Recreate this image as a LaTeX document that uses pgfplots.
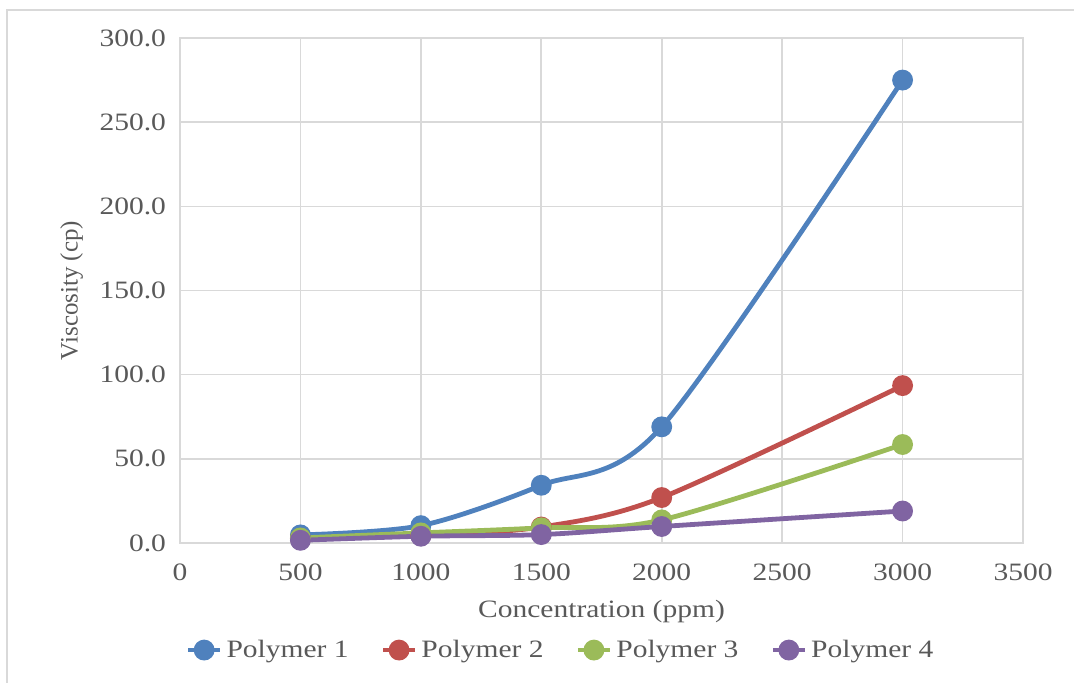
\documentclass[border=0pt]{standalone}
\usepackage{pgfplots}
\pgfplotsset{compat=1.18}
\usepackage{fontspec}
\setmainfont{Liberation Serif}[FakeStretch=1.18]
\newfontfamily\plainserif{Liberation Serif}

\definecolor{pone}{HTML}{4F81BD}
\definecolor{ptwo}{HTML}{C0504D}
\definecolor{pthree}{HTML}{9BBB59}
\definecolor{pfour}{HTML}{8064A2}
\definecolor{gridc}{HTML}{D9D9D9}
\definecolor{txt}{HTML}{595959}

\begin{document}
\begin{tikzpicture}
\useasboundingbox (0,0) rectangle (537pt,341.5pt);
% chart area border
\draw[gridc, line width=0.8pt] (3.5pt,0) -- (3.5pt,336.5pt) -- (537pt,336.5pt);
\begin{axis}[
  at={(90pt,70pt)}, anchor=south west,
  width=421.5pt, height=252.5pt, scale only axis,
  xmin=0, xmax=3500, ymin=0, ymax=300,
  xtick={0,500,...,3500}, ytick={0,50,...,300},
  grid=major, grid style={gridc, line width=0.8pt},
  axis line style={gridc, line width=0.8pt},
  tick style={draw=none},
  font=\fontsize{12.5}{14}\selectfont,
  tick label style={text=txt, font=\fontsize{12.5}{14}\selectfont},
  /pgf/number format/assume math mode=true,
  /pgf/number format/1000 sep={},
  yticklabel style={xshift=-3.5pt, /pgf/number format/.cd, fixed, fixed zerofill, precision=1},
  xticklabel style={yshift=-7pt},
  xlabel={Concentration (ppm)},
  ylabel={Viscosity (cp)},
  label style={text=txt},
  xlabel style={at={(axis description cs:0.5,-0.136)}, anchor=center},
  ylabel style={at={(axis description cs:-0.1285,0.5)}, anchor=center,
    font=\plainserif\fontsize{12.5}{14}\selectfont},
  legend columns=4,
  legend style={at={(0.4526,-0.212)}, anchor=center, draw=none, fill=none,
    font=\fontsize{12.5}{14}\selectfont, text=txt,
    /tikz/every even column/.append style={column sep=14pt}},
  legend image code/.code={
    \draw[#1, line width=2.4pt] (0pt,0pt) -- (16pt,0pt);
    \fill[#1] (8pt,0pt) circle (4pt);
  },
  every axis plot/.append style={line width=2.4pt, smooth, tension=0.5,
    mark=*, mark size=4pt},
]
\addplot[pone, mark options={fill=pone, draw=pone}] coordinates {
  (500,4.8) (1000,10.3) (1500,34.3) (2000,69) (3000,275)};
\addlegendentry{Polymer 1}
\addplot[ptwo, mark options={fill=ptwo, draw=ptwo}] coordinates {
  (500,2.8) (1000,4.5) (1500,9.5) (2000,27) (3000,93.5)};
\addlegendentry{Polymer 2}
\addplot[pthree, mark options={fill=pthree, draw=pthree}] coordinates {
  (500,3) (1000,6) (1500,9) (2000,13.7) (3000,58.5)};
\addlegendentry{Polymer 3}
\addplot[pfour, mark options={fill=pfour, draw=pfour}] coordinates {
  (500,1.6) (1000,4) (1500,5) (2000,9.8) (3000,19)};
\addlegendentry{Polymer 4}
\end{axis}
\end{tikzpicture}
\end{document}
